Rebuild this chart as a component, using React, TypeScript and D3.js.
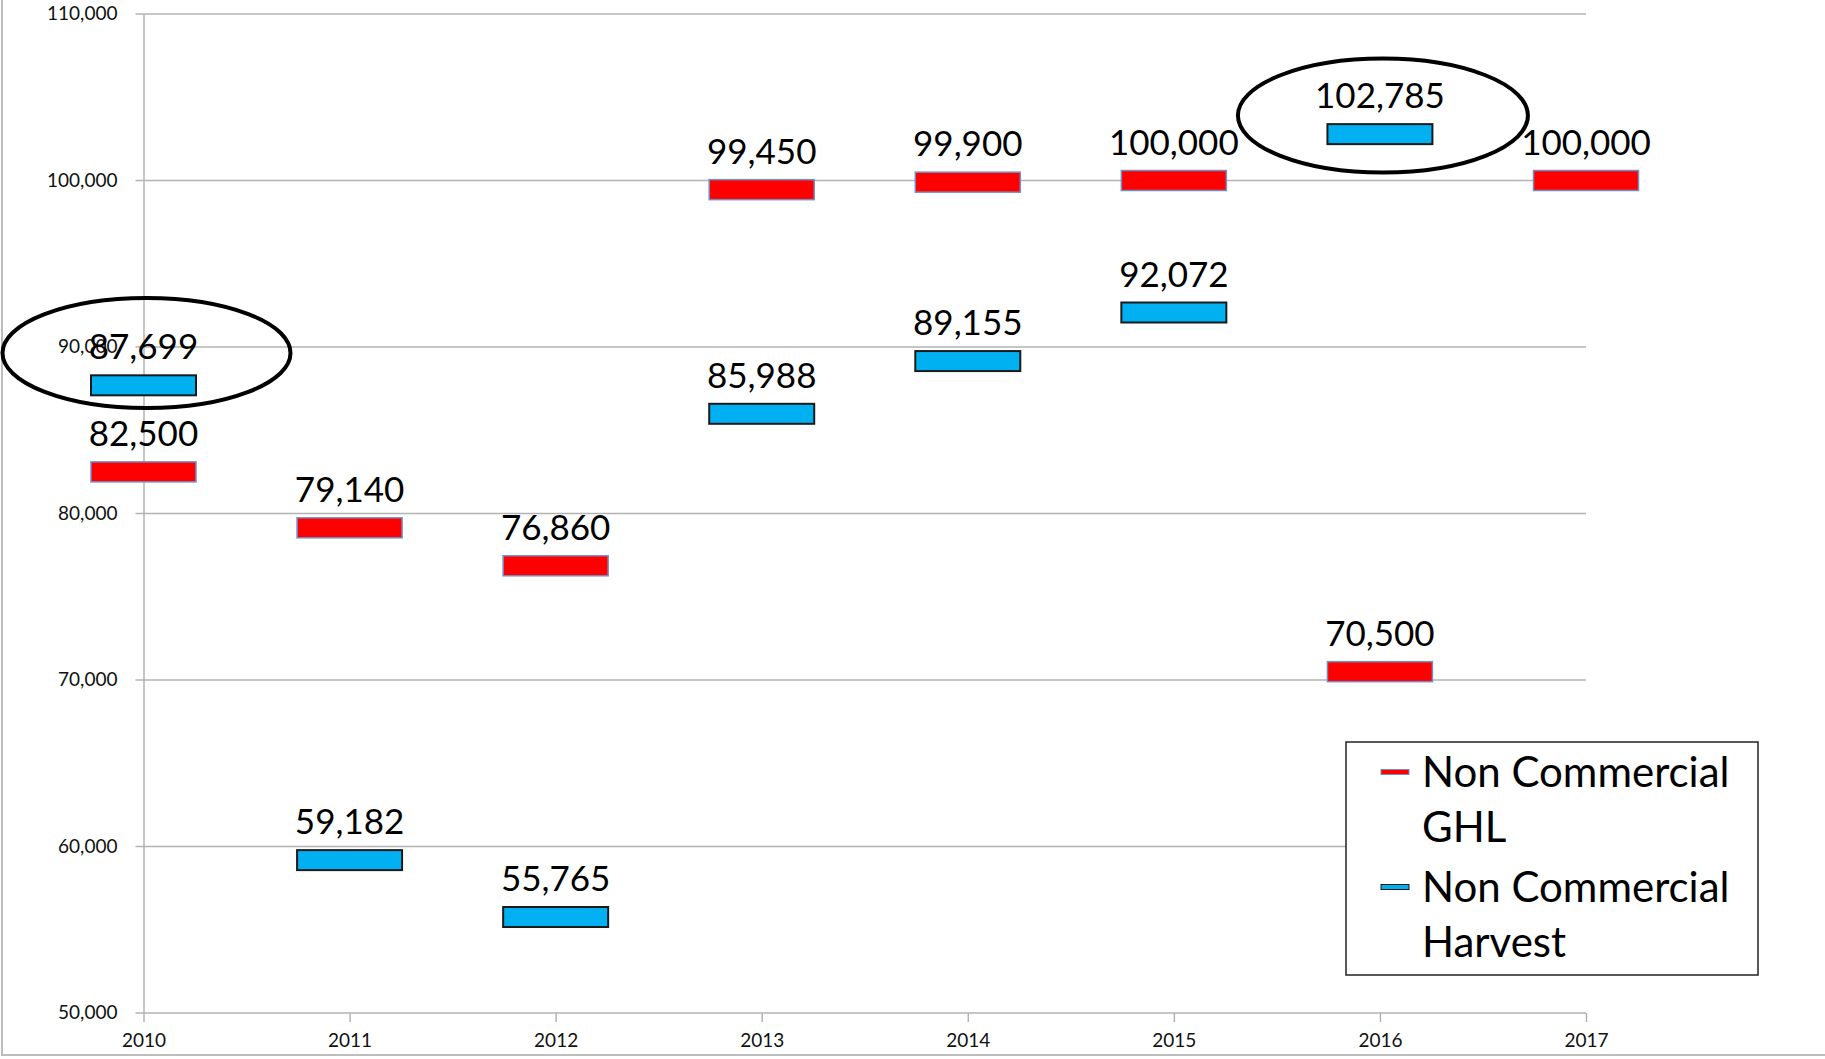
import React, { useEffect, useRef } from "react";
import * as d3 from "d3";

const years = [2010, 2011, 2012, 2013, 2014, 2015, 2016, 2017];
// null = no marker for that year
const ghl = [82500, 79140, 76860, 99450, 99900, 100000, 70500, 100000];
const harvest = [87699, 59182, 55765, 85988, 89155, 92072, 102785, null];
const yTicks = [50000, 60000, 70000, 80000, 90000, 100000, 110000];
const legendItems = [
  { lines: ["Non Commercial", "GHL"], color: "#ff0000", stroke: "#6f8fc7" },
  { lines: ["Non Commercial", "Harvest"], color: "#00b0f0", stroke: "#1a1a1a" },
];
// circled points: year, centre value, radii in px
const callouts = [
  { year: 2010, value: 89640, rx: 144, ry: 55, dx: 3 },
  { year: 2016, value: 103900, rx: 145, ry: 57, dx: 3 },
];

const W = 1825;
const H = 1059;
const FONT = "Lato, 'Open Sans', sans-serif";

const App = () => {
  const svgRef = useRef<SVGSVGElement>(null);

  useEffect(() => {
    document.body.style.margin = "0";
    document.body.style.overflow = "hidden";

    const svg = d3.select(svgRef.current);
    svg.selectAll("*").remove();

    const x = d3.scaleLinear().domain([2010, 2017]).range([143.5, 1586]);
    const y = d3.scaleLinear().domain([50000, 110000]).range([1013, 14]);

    // outer chart border
    svg.append("rect")
      .attr("x", 2).attr("y", -5)
      .attr("width", W + 10).attr("height", H - 2 + 5 - 2)
      .attr("fill", "none").attr("stroke", "#bdbdbd").attr("stroke-width", 2);

    // gridlines
    svg.append("g")
      .selectAll("line")
      .data(yTicks)
      .join("line")
      .attr("x1", x(2010) - 8).attr("x2", x(2017))
      .attr("y1", (d) => y(d)).attr("y2", (d) => y(d))
      .attr("stroke", "#b3b3b3").attr("stroke-width", 1.5);

    // y axis
    const yAxis = d3.axisLeft(y).tickValues(yTicks).tickSize(0).tickPadding(26)
      .tickFormat((d) => d3.format(",")(d as number));
    const gy = svg.append("g").attr("transform", `translate(${x(2010)},0)`).call(yAxis);
    gy.select(".domain").attr("stroke", "#b3b3b3").attr("stroke-width", 1.5);
    gy.selectAll("text").attr("font-family", FONT).attr("font-size", 19).attr("fill", "#111")
      .attr("dy", "0.3em");

    // x axis
    const xAxis = d3.axisBottom(x).tickValues(years).tickSize(9).tickPadding(12)
      .tickFormat((d) => String(d));
    const gx = svg.append("g").attr("transform", `translate(0,${y(50000)})`).call(xAxis);
    gx.select(".domain").remove();
    gx.selectAll(".tick line").attr("stroke", "#b3b3b3").attr("stroke-width", 1.5);
    gx.selectAll("text").attr("font-family", FONT).attr("font-size", 19).attr("fill", "#111");

    const bw = 105;
    const bh = 20;
    const series = [
      { values: ghl, ...legendItems[0], sw: 1.5 },
      { values: harvest, ...legendItems[1], sw: 2 },
    ];

    series.forEach((s) => {
      const pts = years
        .map((yr, i) => ({ yr, v: s.values[i] }))
        .filter((p) => p.v != null) as { yr: number; v: number }[];
      const g = svg.append("g");
      g.selectAll("rect")
        .data(pts)
        .join("rect")
        .attr("x", (d) => x(d.yr) - bw / 2)
        .attr("y", (d) => y(d.v) - bh / 2)
        .attr("width", bw).attr("height", bh)
        .attr("fill", s.color).attr("stroke", s.stroke).attr("stroke-width", s.sw);
      g.selectAll("text")
        .data(pts)
        .join("text")
        .attr("x", (d) => x(d.yr))
        .attr("y", (d) => y(d.v) - 26)
        .attr("text-anchor", "middle")
        .attr("font-family", FONT).attr("font-size", 35).attr("fill", "#000")
        .text((d) => d3.format(",")(d.v));
    });

    // callout ellipses
    svg.append("g")
      .selectAll("ellipse")
      .data(callouts)
      .join("ellipse")
      .attr("cx", (d) => x(d.year) + d.dx)
      .attr("cy", (d) => y(d.value))
      .attr("rx", (d) => d.rx).attr("ry", (d) => d.ry)
      .attr("fill", "none").attr("stroke", "#000").attr("stroke-width", 4);

    // legend
    const lg = svg.append("g").attr("transform", "translate(1346,742)");
    lg.append("rect")
      .attr("width", 412).attr("height", 233)
      .attr("fill", "#fff").attr("stroke", "#222").attr("stroke-width", 1.5);
    legendItems.forEach((item, i) => {
      const top = 45 + i * 115;
      lg.append("rect")
        .attr("x", 35).attr("y", top - 15 - 2.5)
        .attr("width", 28).attr("height", 5)
        .attr("fill", item.color).attr("stroke", item.stroke).attr("stroke-width", 1);
      item.lines.forEach((ln, j) => {
        lg.append("text")
          .attr("x", 76).attr("y", top + j * 55)
          .attr("font-family", FONT).attr("font-size", 42).attr("fill", "#000")
          .text(ln);
      });
    });
  }, []);

  return <svg ref={svgRef} width={W} height={H} style={{ display: "block" }} />;
};

export default App;
